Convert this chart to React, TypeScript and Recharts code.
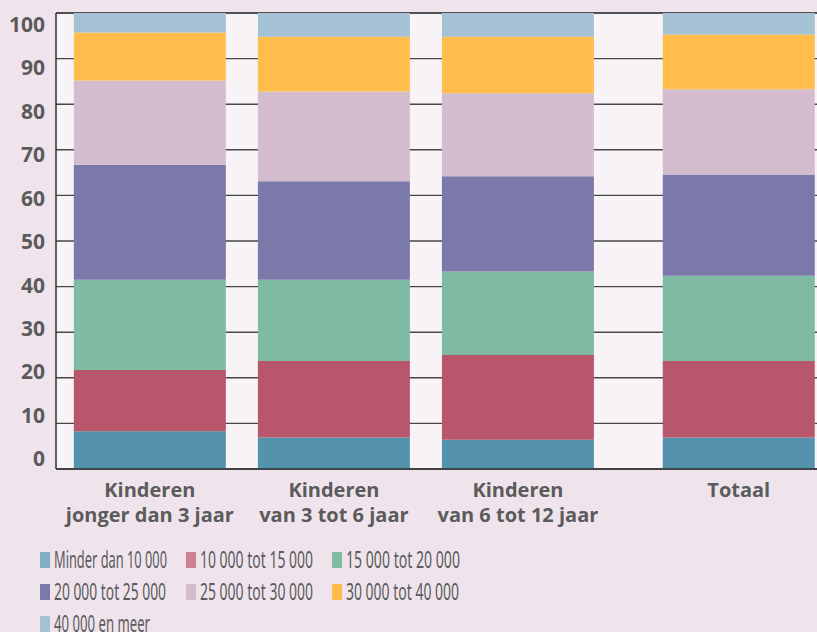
import React from 'react';
import { BarChart, Bar, XAxis, YAxis, CartesianGrid } from 'recharts';

const categories = [
  ['Kinderen', 'jonger dan 3 jaar'],
  ['Kinderen', 'van 3 tot 6 jaar'],
  ['Kinderen', 'van 6 tot 12 jaar'],
  ['Totaal'],
];
// slot of each group along the horizontal axis (Totaal stands a bit apart)
const slots = [1, 2, 3, 4.2];

const seriesNames = [
  'Minder dan 10 000',
  '10 000 tot 15 000',
  '15 000 tot 20 000',
  '20 000 tot 25 000',
  '25 000 tot 30 000',
  '30 000 tot 40 000',
  '40 000 en meer',
];

const minder10 = [8.3, 6.9, 6.4, 6.9];
const tot15 = [13.4, 16.8, 18.6, 16.8];
const tot20 = [19.8, 17.8, 18.3, 18.7];
const tot25 = [25.2, 21.6, 20.9, 22.2];
const tot30 = [18.5, 19.7, 18.2, 18.7];
const tot40 = [10.5, 12.0, 12.4, 12.0];
const meer40 = [4.3, 5.2, 5.2, 4.7];

const seriesValues = [minder10, tot15, tot20, tot25, tot30, tot40, meer40];

const yTicks = [0, 10, 20, 30, 40, 50, 60, 70, 80, 90, 100];

const barColors = ['#5592ac', '#b8576b', '#7fbba2', '#7b79a9', '#d4bccf', '#ffbe4b', '#a4c2d4'];
const legendColors = ['#7fb0c4', '#cd8290', '#7fbba2', '#7b79a9', '#d4bccf', '#ffbe4b', '#a4c2d4'];
const legendTextWidths = [113, 113, 114, 112, 113, 113, 96];
const LEGEND_SQUEEZE = 0.75;

const data = categories.map((c, i) => {
  const row: any = { slot: slots[i], label: c };
  seriesValues.forEach((vals, k) => {
    row['s' + k] = vals[i];
  });
  return row;
});

const TEXT = '#5b5b5b';
const BOLD_FONT = "'Open Sans', 'Noto Sans', sans-serif";
const NARROW_FONT = "'Liberation Sans Narrow', 'Noto Sans', sans-serif";

const XTick = (props: any) => {
  const { x, y, payload } = props;
  const idx = slots.indexOf(payload.value);
  const lines = idx >= 0 ? categories[idx] : [];
  return (
    <text
      x={x}
      y={y}
      textAnchor="middle"
      fill={TEXT}
      fontSize={20}
      fontWeight={700}
      fontFamily={BOLD_FONT}
    >
      {lines.map((l, i) => (
        <tspan key={i} x={x} dy={i === 0 ? 20 : 25}>
          {l}
        </tspan>
      ))}
    </text>
  );
};

export default function App() {
  return (
    <div
      style={{
        position: 'absolute',
        left: 0,
        top: 0,
        width: 817,
        height: 632,
        background: '#efe4ec',
        overflow: 'hidden',
      }}
    >
      <BarChart
        width={817}
        height={632}
        data={data}
        margin={{ top: 13, right: 0, bottom: 93, left: 0 }}
      >
        <CartesianGrid
          yAxisId="main"
          vertical={false}
          stroke="#474747"
          strokeWidth={1.4}
          fill="#f7f3f7"
          fillOpacity={1}
        />
        <XAxis
          type="number"
          dataKey="slot"
          domain={[0.49, 4.625]}
          allowDataOverflow
          ticks={slots}
          interval={0}
          tick={<XTick />}
          tickLine={false}
          axisLine={{ stroke: '#333', strokeWidth: 1.5 }}
          height={70}
        />
        <YAxis yAxisId="main" domain={[0, 100]} ticks={yTicks} hide />
        <YAxis
          yAxisId="labels"
          domain={[-2.3, 102.56]}
          allowDataOverflow
          ticks={yTicks}
          interval={0}
          width={56}
          tickLine={false}
          tickSize={6}
          tickMargin={5}
          axisLine={{ stroke: '#333', strokeWidth: 1.5 }}
          tick={{ fill: TEXT, fontSize: 21, fontWeight: 700, fontFamily: BOLD_FONT }}
        />
        {seriesNames.map((name, k) => (
          <Bar
            key={name}
            yAxisId="main"
            dataKey={'s' + k}
            name={name}
            stackId="a"
            fill={barColors[k]}
            barSize={152}
            isAnimationActive={false}
          />
        ))}
      </BarChart>
      <svg
        width={817}
        height={90}
        style={{ position: 'absolute', left: 0, top: 542 }}
      >
        {seriesNames.map((name, k) => {
          const col = k % 3;
          const row = Math.floor(k / 3);
          const x = 40 + col * 146;
          const y = 10 + row * 32;
          return (
            <g key={name}>
              <rect x={x} y={y} width={10} height={16} fill={legendColors[k]} />
              <text
                transform={`translate(${x + 14},${y + 16}) scale(${LEGEND_SQUEEZE},1)`}
                x={0}
                y={0}
                fontFamily={NARROW_FONT}
                fontSize={23}
                fill={TEXT}
                textLength={legendTextWidths[k] / LEGEND_SQUEEZE}
                lengthAdjust="spacingAndGlyphs"
              >
                {name}
              </text>
            </g>
          );
        })}
      </svg>
    </div>
  );
}
